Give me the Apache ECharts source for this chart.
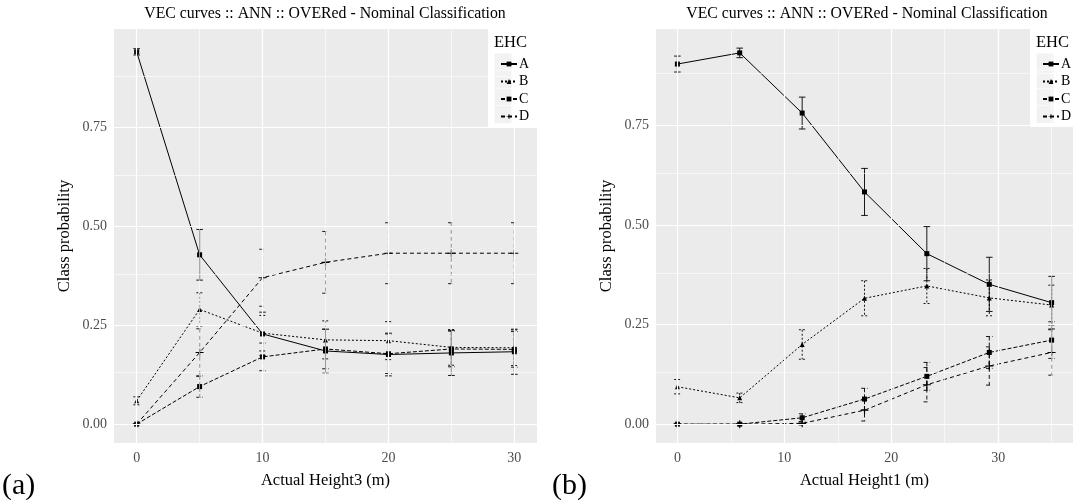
<!DOCTYPE html>
<html><head><meta charset="utf-8">
<script src="https://cdn.jsdelivr.net/npm/echarts@6/dist/echarts.min.js"></script>
<style>html,body{margin:0;padding:0;background:#fff}#c{width:1073px;height:500px}</style>
</head><body><div id="c"></div>
<script>
// ---------- data ----------
const groups = ['A', 'B', 'C', 'D'];
const titleText = 'VEC curves :: ANN :: OVERed - Nominal Classification';
const xTitleLeft = 'Actual Height3 (m)';
const xTitleRight = 'Actual Height1 (m)';
const yTitle = 'Class probability';

// panel (a): Actual Height3
const heightLeft = [0, 5, 10, 15, 20, 25, 30];
const leftA = [0.941, 0.428, 0.228, 0.185, 0.176, 0.180, 0.183];
const leftAerr = [0.008, 0.064, 0.055, 0.055, 0.054, 0.057, 0.057];
const leftB = [0.059, 0.290, 0.230, 0.213, 0.211, 0.194, 0.193];
const leftBerr = [0.010, 0.042, 0.045, 0.048, 0.048, 0.045, 0.045];
const leftC = [0.000, 0.095, 0.170, 0.190, 0.178, 0.190, 0.189];
const leftCerr = [0.000, 0.027, 0.035, 0.050, 0.050, 0.045, 0.045];
const leftD = [0.000, 0.181, 0.370, 0.409, 0.432, 0.432, 0.432];
const leftDerr = [0.000, 0.060, 0.072, 0.078, 0.077, 0.077, 0.077];

// panel (b): Actual Height1
const heightRight = [0, 5.83, 11.67, 17.5, 23.33, 29.17, 35];
const rightA = [0.904, 0.932, 0.781, 0.583, 0.428, 0.351, 0.305];
const rightAerr = [0.020, 0.012, 0.040, 0.059, 0.068, 0.068, 0.066];
const rightB = [0.094, 0.066, 0.200, 0.316, 0.347, 0.317, 0.299];
const rightBerr = [0.018, 0.012, 0.037, 0.044, 0.044, 0.045, 0.050];
const rightC = [0.000, 0.000, 0.016, 0.063, 0.120, 0.180, 0.211];
const rightCerr = [0.000, 0.000, 0.010, 0.027, 0.035, 0.040, 0.046];
const rightD = [0.000, 0.000, 0.002, 0.035, 0.099, 0.146, 0.180];
const rightDerr = [0.000, 0.000, 0.004, 0.027, 0.043, 0.048, 0.057];

// ticks
const xMajorTicks = [0, 10, 20, 30];
const xMinorLeft = [5, 15, 25];
const xMinorRight = [5, 15, 25, 35];
const yMajorTicks = [0, 0.25, 0.5, 0.75];
const yMinorTicks = [0.125, 0.375, 0.625, 0.875];

// ---------- styles ----------
const FONT = 'Liberation Serif';
const styleByGroup = {
  A: { dash: 'solid', ebDash: null, symbol: 'rect', size: 5 },
  B: { dash: [2, 2], ebDash: [2, 2], symbol: 'triangle', size: 5 },
  C: { dash: [4, 2], ebDash: [4, 2], symbol: 'rect', size: 5 },
  D: { dash: [4, 3], ebDash: [4, 3], symbol: 'path://M0,4.3H10V5.7H0Z M4.3,0H5.7V10H4.3Z', size: 8 }
};

const panels = [
  { x: heightLeft, vals: [leftA, leftB, leftC, leftD], errs: [leftAerr, leftBerr, leftCerr, leftDerr], minor: xMinorLeft },
  { x: heightRight, vals: [rightA, rightB, rightC, rightD], errs: [rightAerr, rightBerr, rightCerr, rightDerr], minor: xMinorRight }
];

function errRender(dash) {
  return function (params, api) {
    const x = api.value(0), lo = api.value(1), hi = api.value(2);
    const top = api.coord([x, hi]), bot = api.coord([x, lo]);
    const hw = 3.3;
    const st = { stroke: '#000', lineWidth: 0.9, lineDash: dash, fill: null };
    return {
      type: 'group', children: [
        { type: 'line', shape: { x1: top[0], y1: top[1], x2: bot[0], y2: bot[1] }, style: st },
        { type: 'line', shape: { x1: top[0] - hw, y1: top[1], x2: top[0] + hw, y2: top[1] }, style: st },
        { type: 'line', shape: { x1: bot[0] - hw, y1: bot[1], x2: bot[0] + hw, y2: bot[1] }, style: st }
      ]
    };
  };
}

const series = [];
panels.forEach((p, pi) => {
  const ml = [];
  xMajorTicks.forEach(v => ml.push({ xAxis: v, lineStyle: { color: '#fff', width: 1.2, type: 'solid' } }));
  p.minor.forEach(v => ml.push({ xAxis: v, lineStyle: { color: '#fff', width: 0.6, type: 'solid' } }));
  yMajorTicks.forEach(v => ml.push({ yAxis: v, lineStyle: { color: '#fff', width: 1.2, type: 'solid' } }));
  yMinorTicks.forEach(v => ml.push({ yAxis: v, lineStyle: { color: '#fff', width: 0.6, type: 'solid' } }));
  series.push({
    type: 'line', name: 'grid' + pi, xAxisIndex: pi, yAxisIndex: pi, data: [], silent: true, z: 1,
    markLine: { silent: true, symbol: 'none', label: { show: false }, animation: false, emphasis: { disabled: true }, data: ml }
  });
  groups.forEach((g, gi) => {
    const st = styleByGroup[g];
    series.push({
      type: 'custom', name: g + ' err' + pi, xAxisIndex: pi, yAxisIndex: pi, z: 2, silent: true,
      renderItem: errRender(st.ebDash),
      data: p.x.map((xv, i) => [xv, p.vals[gi][i] - p.errs[gi][i], p.vals[gi][i] + p.errs[gi][i]])
    });
    series.push({
      type: 'line', name: g, xAxisIndex: pi, yAxisIndex: pi, z: 3,
      data: p.x.map((xv, i) => [xv, p.vals[gi][i]]),
      symbol: st.symbol, symbolSize: st.size, showSymbol: true,
      lineStyle: { color: '#000', width: 1, type: st.dash },
      itemStyle: { color: '#000' },
      emphasis: { disabled: true }
    });
  });
});

function xAxisCfg(idx, min, max, name) {
  return {
    type: 'value', gridIndex: idx, min: min, max: max,
    name: name, nameLocation: 'middle', nameGap: 29,
    nameTextStyle: { fontFamily: FONT, fontSize: 16.5, color: '#000' },
    splitLine: { show: false }, axisLine: { show: false },
    axisTick: { show: true, customValues: xMajorTicks, length: 3.5, lineStyle: { color: '#333', width: 1 } },
    axisLabel: { customValues: xMajorTicks, margin: 8, fontFamily: FONT, fontSize: 14, color: '#4D4D4D', formatter: v => String(v) }
  };
}
function yAxisCfg(idx, min, max) {
  return {
    type: 'value', gridIndex: idx, min: min, max: max,
    name: yTitle, nameLocation: 'middle', nameGap: 41, nameRotate: 90,
    nameTextStyle: { fontFamily: FONT, fontSize: 16.5, color: '#000' },
    splitLine: { show: false }, axisLine: { show: false },
    axisTick: { show: true, customValues: yMajorTicks, length: 3.5, lineStyle: { color: '#333', width: 1 } },
    axisLabel: { customValues: yMajorTicks, margin: 7, fontFamily: FONT, fontSize: 14, color: '#4D4D4D', formatter: v => v.toFixed(2) }
  };
}

function legendCfg(left) {
  return {
    data: groups, orient: 'vertical', left: left, top: 52, itemWidth: 16, itemHeight: 6, itemGap: 3.5,
    selectedMode: false, z: 6,
    textStyle: { fontFamily: FONT, fontSize: 14, color: '#000', lineHeight: 14, padding: [0, 0, 0, -3] }
  };
}

const graphics = [];
[0, 542].forEach((off, k) => {
  graphics.push({ type: 'rect', z: 4, shape: { x: 488 + off, y: 29, width: 52, height: 98 }, style: { fill: '#fff' } });
  for (let i = 0; i < 4; i++) {
    graphics.push({ type: 'rect', z: 5, shape: { x: 494.5 + off, y: 53.5 + i * 17.5, width: 17, height: 17 }, style: { fill: '#F2F2F2' } });
  }
  graphics.push({ type: 'text', z: 6, x: 494 + off, y: 43, style: { text: 'EHC', font: '16.5px "Liberation Serif"', fill: '#000', textAlign: 'left', textVerticalAlign: 'middle' } });
  graphics.push({ type: 'text', z: 6, x: 325 + off, y: 14, style: { text: titleText, font: '15.8px "Liberation Serif"', fill: '#000', textAlign: 'center', textVerticalAlign: 'middle' } });
  graphics.push({ type: 'text', z: 6, x: 2 + off + (k ? 8 : 0), y: 486, style: { text: k ? '(b)' : '(a)', font: '30px "Liberation Serif"', fill: '#000', textAlign: 'left', textVerticalAlign: 'middle' } });
});

const option = {
  animation: false,
  backgroundColor: '#fff',
  grid: [
    { left: 114, top: 29, width: 423, height: 414, show: true, backgroundColor: '#EBEBEB', borderWidth: 0 },
    { left: 656, top: 29, width: 422.5, height: 414, show: true, backgroundColor: '#EBEBEB', borderWidth: 0 }
  ],
  xAxis: [xAxisCfg(0, -1.8, 31.8, xTitleLeft), xAxisCfg(1, -2.0, 37.0, xTitleRight)],
  yAxis: [yAxisCfg(0, -0.0476, 0.9986), yAxisCfg(1, -0.0473, 0.992)],
  legend: [legendCfg(495), legendCfg(1037)],
  graphic: graphics,
  series: series
};

const chart = echarts.init(document.getElementById('c'), null, { renderer: 'canvas' });
chart.setOption(option);
</script>
</body></html>
